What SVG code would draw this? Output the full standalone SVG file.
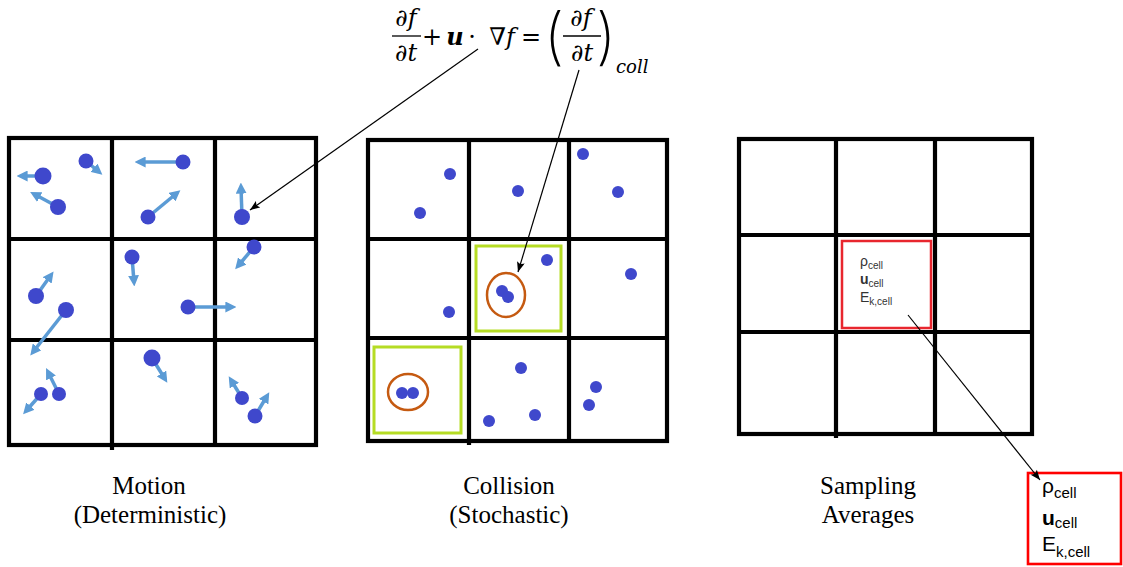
<svg xmlns="http://www.w3.org/2000/svg" width="1123" height="567" viewBox="0 0 1123 567">
<style>
.grid{fill:none;stroke:#000;stroke-width:4.2}
.p{fill:#3F48CC}
.v{stroke:#5B9BD5;stroke-width:3.5;fill:none;marker-end:url(#ba)}
.lbl{font-family:"Liberation Serif","Times New Roman",serif;font-size:25px;fill:#000;text-anchor:middle}
.eq{font-family:"DejaVu Serif","Liberation Serif",serif;font-style:italic;font-size:24px;fill:#000;text-anchor:middle}
.par{font-family:Inter,"DejaVu Sans",sans-serif;font-style:normal;font-weight:200;font-size:62px;fill:#000;text-anchor:middle}
.bar{stroke:#000;stroke-width:1.3}
.con{stroke:#000;stroke-width:1.2;fill:none;marker-end:url(#ka)}
.s1{font-family:"Liberation Sans",Arial,sans-serif;font-size:14px;fill:#333}
.s2{font-family:"Liberation Sans",Arial,sans-serif;font-size:21px;fill:#000}
</style>
<defs>
<marker id="ba" viewBox="0 0 10 10" refX="6" refY="5" markerWidth="11" markerHeight="11" markerUnits="userSpaceOnUse" orient="auto"><path d="M0,0 L10,5 L0,10 z" fill="#5B9BD5"/></marker>
<marker id="ka" viewBox="0 0 10 8" refX="10" refY="4" markerWidth="11" markerHeight="8" markerUnits="userSpaceOnUse" orient="auto"><path d="M0,0 L10,4 L0,8 L2,4 z" fill="#000"/></marker>
</defs>
<rect width="1123" height="567" fill="#fff"/>

<g id="equation">
<text class="eq" x="406" y="26">∂f</text>
<line class="bar" x1="392" y1="36" x2="421" y2="36"/>
<text class="eq" x="406" y="61">∂t</text>
<text class="eq" x="432" y="45" style="font-style:normal">+</text>
<text class="eq" x="455" y="45" style="font-weight:bold">u</text>
<text class="eq" x="472" y="45" style="font-style:normal">·</text>
<text class="eq" x="502" y="45">∇f</text>
<text class="eq" x="531" y="45" style="font-style:normal">=</text>
<text class="par" x="554" y="58">(</text>
<text class="eq" x="581" y="26">∂f</text>
<line class="bar" x1="563" y1="36" x2="601" y2="36"/>
<text class="eq" x="582" y="61">∂t</text>
<text class="par" x="606" y="58">)</text>
<text class="eq" x="616" y="73" style="font-size:18px;text-anchor:start">coll</text>
</g>

<g id="motion-grid">
<rect class="grid" x="9" y="138" width="307" height="307"/>
<line class="grid" x1="112" y1="138" x2="112" y2="450"/>
<line class="grid" x1="215" y1="138" x2="215" y2="445"/>
<line class="grid" x1="9" y1="239" x2="316" y2="239"/>
<line class="grid" x1="9" y1="340" x2="316" y2="340"/>
<line class="v" x1="43" y1="176" x2="21" y2="176"/>
<line class="v" x1="86" y1="161" x2="99" y2="172"/>
<line class="v" x1="58" y1="207" x2="34" y2="194"/>
<line class="v" x1="183" y1="162" x2="139" y2="162"/>
<line class="v" x1="148" y1="217" x2="177" y2="193"/>
<line class="v" x1="242" y1="217" x2="241" y2="187"/>
<line class="v" x1="36" y1="296" x2="51" y2="275"/>
<line class="v" x1="66" y1="310" x2="33" y2="352"/>
<line class="v" x1="132" y1="257" x2="134" y2="282"/>
<line class="v" x1="188" y1="307" x2="232" y2="307"/>
<line class="v" x1="254" y1="247" x2="238" y2="266"/>
<line class="v" x1="41" y1="394" x2="26" y2="411"/>
<line class="v" x1="59" y1="394" x2="48" y2="372"/>
<line class="v" x1="152" y1="358" x2="165" y2="379"/>
<line class="v" x1="242" y1="398" x2="231" y2="380"/>
<line class="v" x1="255" y1="416" x2="267" y2="396"/>
<circle class="p" cx="43" cy="176" r="8.5"/>
<circle class="p" cx="86" cy="161" r="7.5"/>
<circle class="p" cx="58" cy="207" r="8"/>
<circle class="p" cx="183" cy="162" r="7.5"/>
<circle class="p" cx="148" cy="217" r="7.5"/>
<circle class="p" cx="242" cy="217" r="8"/>
<circle class="p" cx="36" cy="296" r="8"/>
<circle class="p" cx="66" cy="310" r="8"/>
<circle class="p" cx="132" cy="257" r="7.5"/>
<circle class="p" cx="188" cy="307" r="7.5"/>
<circle class="p" cx="254" cy="247" r="7.5"/>
<circle class="p" cx="41" cy="394" r="7"/>
<circle class="p" cx="59" cy="394" r="7"/>
<circle class="p" cx="152" cy="358" r="8.5"/>
<circle class="p" cx="242" cy="398" r="7"/>
<circle class="p" cx="255" cy="416" r="7.5"/>
</g>

<g id="collision-grid">
<rect class="grid" x="368" y="140" width="299" height="301"/>
<line class="grid" x1="469" y1="140" x2="469" y2="445"/>
<line class="grid" x1="569" y1="140" x2="569" y2="441"/>
<line class="grid" x1="368" y1="239" x2="667" y2="239"/>
<line class="grid" x1="368" y1="338" x2="667" y2="338"/>
<rect x="476" y="246" width="85" height="85" fill="none" stroke="#B5DC24" stroke-width="3"/>
<rect x="374" y="347" width="87" height="86" fill="none" stroke="#B5DC24" stroke-width="3"/>
<ellipse cx="506" cy="295" rx="19" ry="22" fill="none" stroke="#C55A11" stroke-width="2.5"/>
<ellipse cx="408" cy="392" rx="20" ry="18" fill="none" stroke="#C55A11" stroke-width="2.5"/>
<circle class="p" cx="450" cy="174" r="6"/>
<circle class="p" cx="420" cy="213" r="6"/>
<circle class="p" cx="518" cy="191" r="6"/>
<circle class="p" cx="583" cy="154" r="6"/>
<circle class="p" cx="618" cy="192" r="6"/>
<circle class="p" cx="547" cy="260" r="6"/>
<circle class="p" cx="631" cy="274" r="6"/>
<circle class="p" cx="449" cy="312" r="6"/>
<circle class="p" cx="502" cy="291" r="6"/>
<circle class="p" cx="508" cy="297" r="6"/>
<circle class="p" cx="402" cy="393" r="6"/>
<circle class="p" cx="413" cy="393" r="6"/>
<circle class="p" cx="521" cy="368" r="6"/>
<circle class="p" cx="489" cy="421" r="6"/>
<circle class="p" cx="535" cy="415" r="6"/>
<circle class="p" cx="596" cy="387" r="6"/>
<circle class="p" cx="589" cy="405" r="6"/>
</g>

<g id="sampling-grid">
<rect class="grid" x="739" y="139" width="293" height="295"/>
<line class="grid" x1="836" y1="139" x2="836" y2="438"/>
<line class="grid" x1="935" y1="139" x2="935" y2="434"/>
<line class="grid" x1="739" y1="235" x2="1032" y2="235"/>
<line class="grid" x1="739" y1="332" x2="1032" y2="332"/>
<rect x="842" y="241" width="89" height="87" fill="#fff" stroke="#E8262E" stroke-width="2.5"/>
<text class="s1" x="860" y="266">ρ<tspan font-size="10" dy="3">cell</tspan></text>
<text class="s1" x="860" y="284" font-weight="bold">u<tspan font-size="10" font-weight="normal" dy="3">cell</tspan></text>
<text class="s1" x="860" y="302">E<tspan font-size="10" dy="3">k,cell</tspan></text>
</g>

<g id="averages-box">
<rect x="1028" y="473" width="93" height="91" fill="#fff" stroke="#FF0000" stroke-width="2.6"/>
<text class="s2" x="1042" y="493">ρ<tspan font-size="15" dy="5">cell</tspan></text>
<text class="s2" x="1042" y="525" font-weight="bold">u<tspan font-size="15" font-weight="normal" dy="3">cell</tspan></text>
<text class="s2" x="1042" y="551">E<tspan font-size="15" dy="6">k,cell</tspan></text>
</g>

<g id="labels">
<text class="lbl" x="149" y="494">Motion</text>
<text class="lbl" x="150" y="523">(Deterministic)</text>
<text class="lbl" x="509" y="494">Collision</text>
<text class="lbl" x="509" y="523">(Stochastic)</text>
<text class="lbl" x="868" y="494">Sampling</text>
<text class="lbl" x="868" y="523">Averages</text>
</g>

<g id="connectors">
<line class="con" x1="478" y1="49" x2="250" y2="210"/>
<line class="con" x1="579" y1="70" x2="518" y2="272"/>
<line class="con" x1="908" y1="315" x2="1040" y2="480"/>
</g>
</svg>
